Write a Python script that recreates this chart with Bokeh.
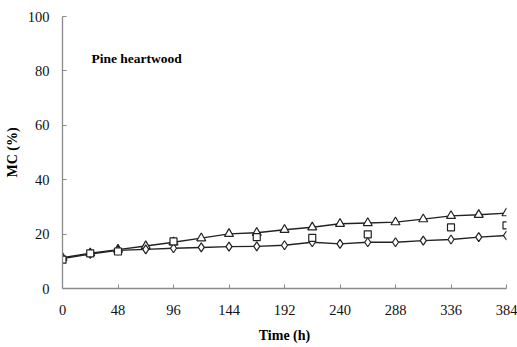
from bokeh.plotting import figure
from bokeh.models import Label, Range1d, FixedTicker
from bokeh.embed import file_html
from bokeh.resources import INLINE

# Data (Time in h, MC in %)
time_tri = [0, 24, 48, 72, 96, 120, 144, 168, 192, 216, 240, 264, 288, 312, 336, 360, 384]
mc_tri = [11.3, 13.0, 14.3, 15.6, 17.0, 18.5, 20.1, 20.5, 21.6, 22.5, 23.8, 24.1, 24.4, 25.5, 26.7, 27.1, 27.7]

time_dia = [0, 24, 48, 72, 96, 120, 144, 168, 192, 216, 240, 264, 288, 312, 336, 360, 384]
mc_dia = [11.0, 12.7, 14.0, 14.4, 14.8, 15.1, 15.4, 15.5, 15.9, 17.0, 16.4, 17.0, 17.0, 17.6, 18.0, 18.9, 19.5]

time_sq = [0, 24, 48, 96, 168, 216, 264, 336, 384]
mc_sq = [10.6, 12.9, 13.6, 17.3, 18.9, 18.6, 19.9, 22.5, 23.2]

x_ticks = [0, 48, 96, 144, 192, 240, 288, 336, 384]
y_ticks = [0, 20, 40, 60, 80, 100]

p = figure(width=517, height=347, output_backend="svg", toolbar_location=None,
           x_range=Range1d(0, 384), y_range=Range1d(0, 100),
           min_border_left=62, min_border_right=11, min_border_top=16, min_border_bottom=59)

p.outline_line_color = None
p.xgrid.visible = False
p.ygrid.visible = False
p.background_fill_color = "white"
p.border_fill_color = "white"

FONT = "Liberation Serif"
for ax in (p.xaxis[0], p.yaxis[0]):
    ax.axis_line_color = "#8a8a8a"
    ax.axis_line_width = 1.3
    ax.major_tick_line_color = "#8a8a8a"
    ax.major_tick_in = 4
    ax.major_tick_out = 0
    ax.minor_tick_line_color = None
    ax.major_label_text_font = FONT
    ax.major_label_text_font_size = "14.5px"
    ax.major_label_text_color = "#111111"
    ax.axis_label_text_font = FONT
    ax.axis_label_text_font_style = "bold"
    ax.axis_label_text_font_size = "14px"
    ax.axis_label_text_color = "#000000"

p.xaxis.ticker = FixedTicker(ticks=x_ticks)
p.yaxis.ticker = FixedTicker(ticks=y_ticks)
p.xaxis.axis_label = "Time (h)"
p.yaxis.axis_label = "MC (%)"
p.xaxis.major_label_standoff = 16
p.yaxis.major_label_standoff = 13
p.xaxis.axis_label_standoff = 10
p.yaxis.axis_label_standoff = 5

LC = "#222222"
p.line(time_tri, mc_tri, line_color=LC, line_width=1.4)
p.line(time_dia, mc_dia, line_color=LC, line_width=1.4)
p.scatter(time_tri, mc_tri, marker="triangle", size=9, fill_color="white", line_color=LC, line_width=1.2)
p.scatter(time_dia, mc_dia, marker="diamond", size=9, fill_color="white", line_color=LC, line_width=1.2)
p.scatter(time_sq, mc_sq, marker="square", size=7, fill_color="white", line_color=LC, line_width=1.2)

p.add_layout(Label(x=25, y=84.6, text="Pine heartwood", text_font=FONT, text_font_style="bold",
                   text_font_size="13.5px", text_baseline="middle", text_color="#000000"))

open("out.html", "w").write(file_html(p, INLINE))
